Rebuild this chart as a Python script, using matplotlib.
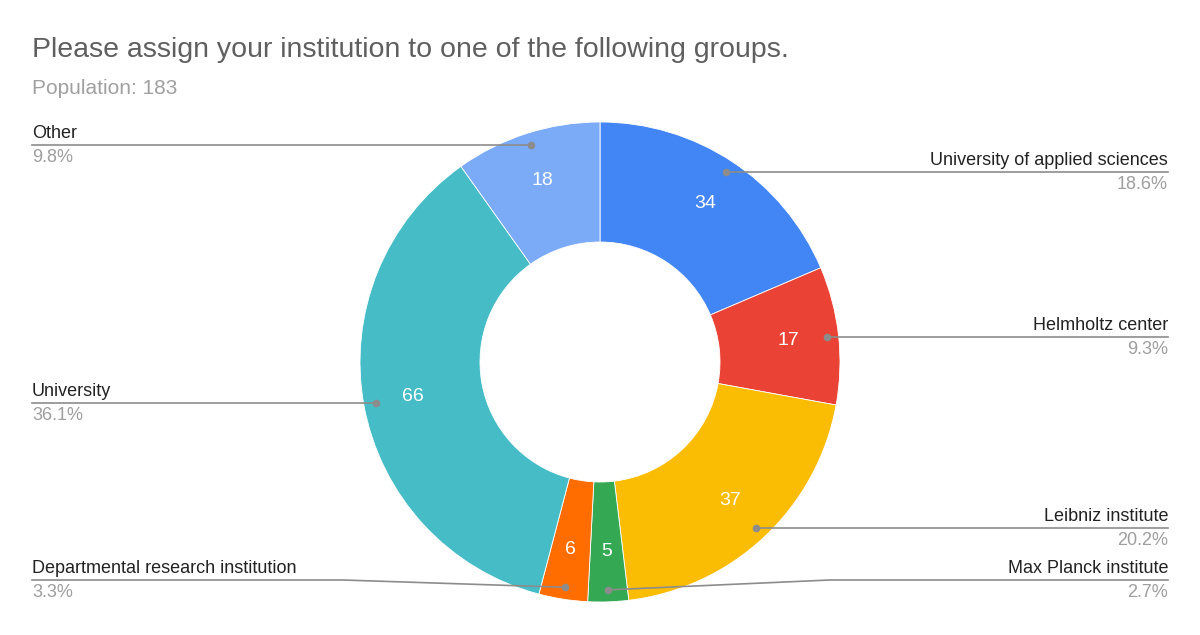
import numpy as np
import matplotlib
matplotlib.use("Agg")
import matplotlib.pyplot as plt

categories = [
    "University of applied sciences",
    "Helmholtz center",
    "Leibniz institute",
    "Max Planck institute",
    "Departmental research institution",
    "University",
    "Other",
]
counts = [34, 17, 37, 5, 6, 66, 18]
colors = ["#4285F4", "#EA4335", "#FBBC04", "#34A853", "#FF6D01", "#46BDC6", "#7BAAF7"]

title = "Please assign your institution to one of the following groups."
subtitle = f"Population: {sum(counts)}"

plt.rcParams["font.family"] = ["Liberation Sans", "DejaVu Sans"]

W, H = 1200, 635
fig = plt.figure(figsize=(W / 100, H / 100), dpi=100)
ax = fig.add_axes([0, 0, 1, 1])

# geometry in pixel units (y measured upward)
cx, cy = 600, H - 362
r_out, ring = 240, 120

wedges, _ = ax.pie(
    counts, colors=colors, center=(cx, cy), radius=r_out,
    startangle=90, counterclock=False,
    wedgeprops=dict(width=ring, edgecolor="white", linewidth=0.6),
)
ax.set_xlim(0, W)
ax.set_ylim(0, H)
ax.set_aspect("equal")
ax.axis("off")

total = sum(counts)
line_col = "#8c8c8c"
y_floor = H - 580  # lowest label line

for w, name, n in zip(wedges, categories, counts):
    mid = np.deg2rad((w.theta1 + w.theta2) / 2)
    # value label inside the ring
    vx, vy = cx + 190 * np.cos(mid), cy + 190 * np.sin(mid)
    ax.text(vx, vy, str(n), color="white", fontsize=14, ha="center", va="center")

    # leader dot
    dx, dy = cx + 228 * np.cos(mid), cy + 228 * np.sin(mid)
    ax.plot(dx, dy, "o", color=line_col, ms=4.5, zorder=5)

    right = dx > cx
    edge = 1168 if right else 32
    ly = max(dy, y_floor)
    if ly != dy:
        knee = dx + 222 if right else dx - 222
        ax.plot([dx, knee, edge], [dy, ly, ly], color=line_col, lw=1.2, zorder=4)
    else:
        ax.plot([dx, edge], [dy, ly], color=line_col, lw=1.2, zorder=4)

    ha = "right" if right else "left"
    ax.text(edge, ly + 3, name, color="#222222", fontsize=13, ha=ha, va="bottom")
    ax.text(edge, ly - 4, f"{n / total * 100:.1f}%", color="#9e9e9e",
            fontsize=13, ha=ha, va="top")

ax.text(32, H - 50, title, color="#5f5f5f", fontsize=20.5, ha="left", va="center")
ax.text(32, H - 89, subtitle, color="#a0a0a0", fontsize=15, ha="left", va="center")

fig.savefig("out.png", dpi=100, facecolor="white")
